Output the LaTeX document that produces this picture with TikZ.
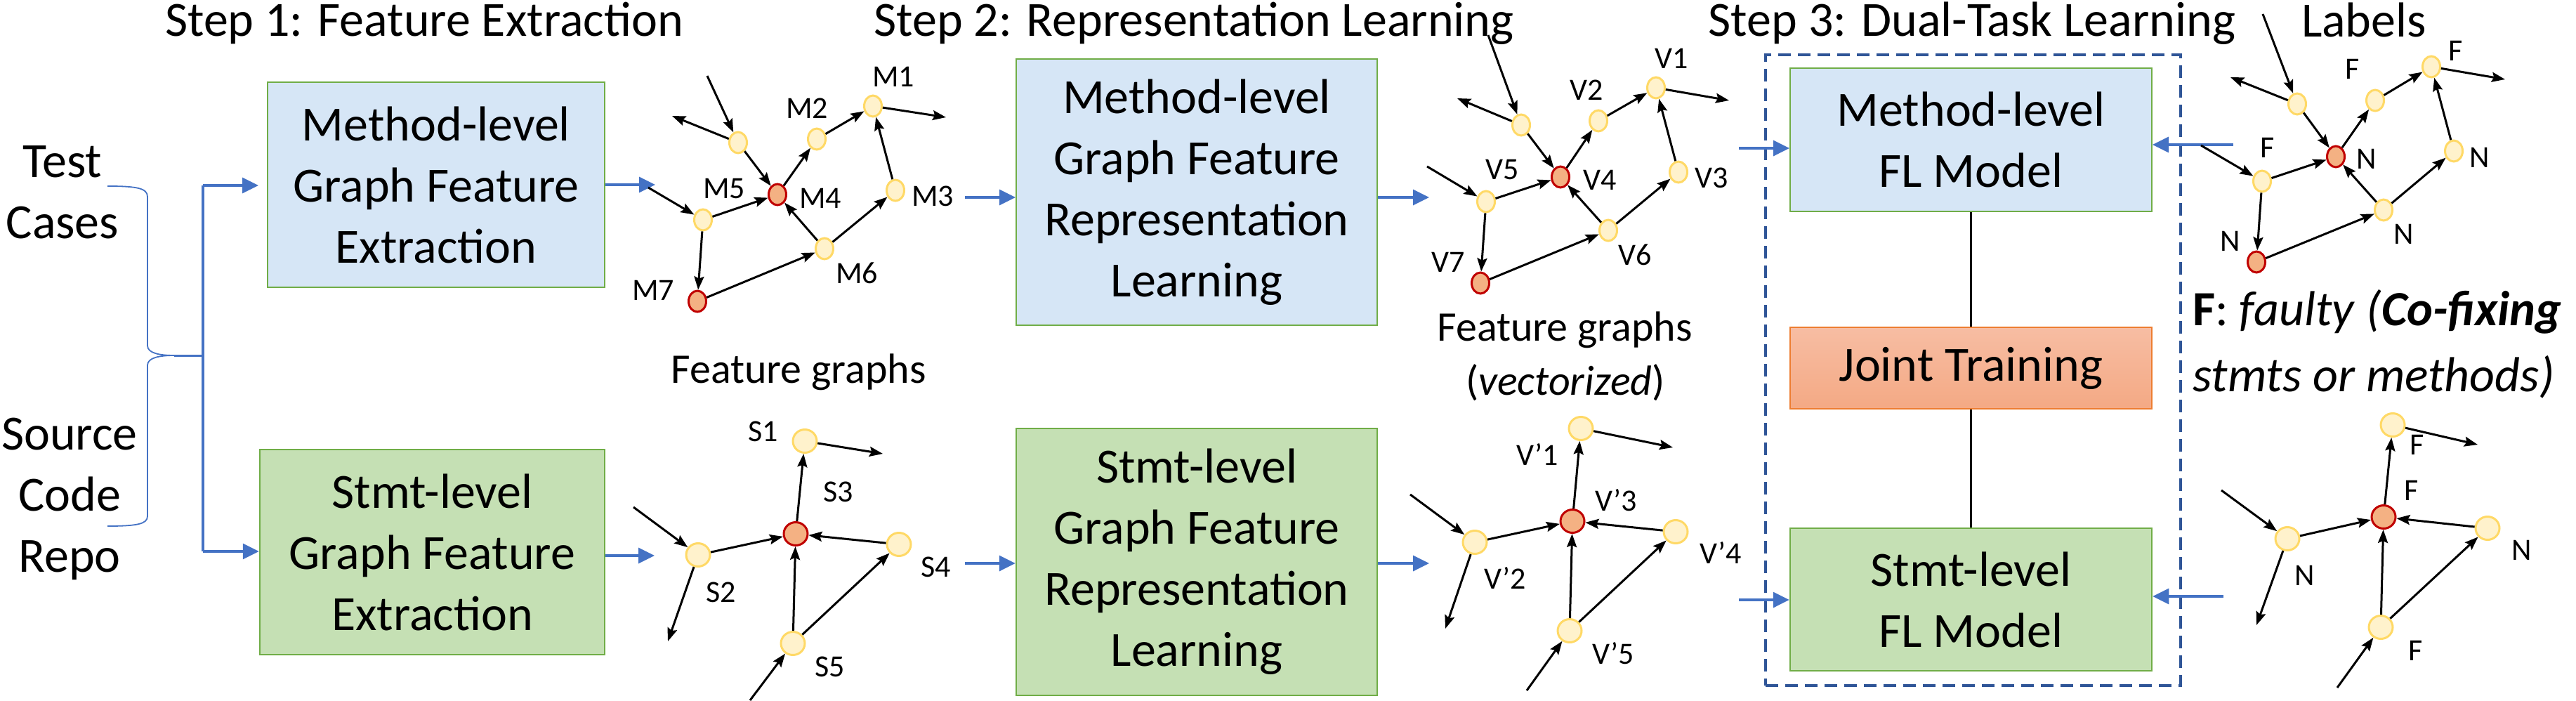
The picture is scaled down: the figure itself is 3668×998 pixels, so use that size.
\documentclass[tikz,border=0pt]{standalone}
\usepackage{fontspec}
\setmainfont{Carlito}
\usetikzlibrary{arrows.meta,shapes.geometric}
\definecolor{bblue}{HTML}{4472C4}
\definecolor{bgreen}{HTML}{70AD47}
\definecolor{bfill}{HTML}{D6E6F6}
\definecolor{gfill}{HTML}{C5E0B4}
\definecolor{jtb}{HTML}{ED7D31}
\definecolor{jtone}{HTML}{F7BDA3}
\definecolor{jttwo}{HTML}{F4A984}
\definecolor{dblue}{HTML}{2F5597}
\definecolor{ngold}{HTML}{FFD966}
\definecolor{nyel}{HTML}{FFF2CC}
\definecolor{nred}{HTML}{C00000}
\definecolor{nredf}{HTML}{F4B183}
\newcommand\methodedges[1]{\foreach \a/\b in {Ain/A,A/Aout,A/4,4/2,2/1,1/1out,3/1,6/3,6/4,7/6,5/7,5/4,5in/5} \draw[ed] (#1\a) -- (#1\b);}
\newcommand\stmtedges[1]{\foreach \a/\b in {2in/2,2/2out,2/3,3/1,1/1out,4/3,5/3,5/4,5in/5} \draw[ed] (#1\a) -- (#1\b);}
\tikzset{
 bigtxt/.style={font=\fontsize{70}{87}\selectfont, inner sep=0pt},
 midtxt/.style={font=\fontsize{60}{72}\selectfont, inner sep=0pt},
 lbl/.style={font=\fontsize{44}{50}\selectfont, inner sep=0pt, anchor=base},
 gn/.style={ellipse, draw=ngold, fill=nyel, line width=3pt, minimum width=25pt, minimum height=30pt, inner sep=0pt},
 gnr/.style={gn, draw=nred, fill=nredf},
 bn/.style={gn, minimum width=34pt, minimum height=33pt},
 bnr/.style={bn, draw=nred, fill=nredf},
 ed/.style={line width=3pt, -{Stealth[length=19pt,width=14pt,inset=3pt]}},
 bluearr/.style={draw=bblue, line width=3.5pt, -{Triangle[length=23pt,width=22pt]}},
 bluebox/.style={rectangle, draw=bgreen, line width=2pt, fill=bfill, align=center, bigtxt},
 greenbox/.style={rectangle, draw=bgreen, line width=2.5pt, fill=gfill, align=center, bigtxt},
}
\begin{document}
\begin{tikzpicture}[x=1pt,y=-1pt]
\useasboundingbox (0,0) rectangle (3668,998);

% ---------- titles ----------
\node[bigtxt, anchor=base] (t1) at (604,52) {Step 1: Feature Extraction};
\node[bigtxt, anchor=base] (t2) at (1700,52) {Step 2: Representation Learning};
\node[bigtxt, anchor=base] (t3) at (2808,52) {Step 3: Dual-Task Learning};
\node[bigtxt, anchor=base] (t4) at (3366,53) {Labels};

% ---------- inputs ----------
\node[bigtxt, align=center] (tc) at (89,273.5) {Test\\Cases};
\node[bigtxt, align=center] (sc) at (99,710.5) {Source\\Code\\Repo};
\draw[bblue, line width=1.8pt] (153,265) .. controls (195,265) and (210,268) .. (210,280) -- (210,492) .. controls (210,503) and (228,506) .. (248,506) .. controls (228,506) and (210,509) .. (210,520) -- (210,735) .. controls (210,746) and (195,749) .. (153,749);
\coordinate (bcusp) at (248,506);
\coordinate (bjoin) at (289,506);
\coordinate (jtop) at (289,264);
\coordinate (jbot) at (289,785);
\draw[bblue, line width=3pt] (bcusp) -- (bjoin);
\draw[bblue, line width=3.5pt] (jtop) -- (jbot);

% ---------- boxes ----------
\node[bluebox, minimum width=480pt, minimum height=292pt] (box1) at (621,263) {Method-level\\Graph Feature\\Extraction};
\node[greenbox, minimum width=491pt, minimum height=292pt] (box2) at (615.5,786) {Stmt-level\\Graph Feature\\Extraction};
\node[bluebox, minimum width=514pt, minimum height=379pt] (box3) at (1704,273.5) {Method-level\\Graph Feature\\Representation\\Learning};
\node[greenbox, minimum width=514pt, minimum height=380pt] (box4) at (1704,800) {Stmt-level\\Graph Feature\\Representation\\Learning};

\node[draw=dblue, line width=3.5pt, dash pattern=on 18pt off 10pt, minimum width=591pt, minimum height=898pt, inner sep=0pt] (frame) at (2809.5,527) {};
\node[bluebox, minimum width=515pt, minimum height=204pt] (box5) at (2806.5,199) {Method-level\\FL Model};
\node[rectangle, draw=jtb, line width=2.5pt, top color=jtone, bottom color=jttwo, minimum width=515pt, minimum height=116pt, bigtxt] (jt) at (2806.5,524) {Joint Training};
\node[greenbox, minimum width=515pt, minimum height=203pt] (box6) at (2806.5,853.5) {Stmt-level\\FL Model};
\draw[line width=2.5pt] (box5.south) -- (jt.north);
\draw[line width=2.5pt] (jt.south) -- (box6.north);

% ---------- blue arrows ----------
\draw[bluearr, shorten >=12pt] (jtop) -- (jtop -| box1.west);
\draw[bluearr] (jbot) -- (jbot -| box2.west);
\coordinate (g1) at (933,263);
\coordinate (g2) at (932,791);
\coordinate (g3) at (1374,281);
\coordinate (g4) at (2035,281);
\coordinate (g5) at (1374,802);
\coordinate (g6) at (2035,802);
\coordinate (g7) at (2476,211);
\coordinate (g8) at (2476,854);
\coordinate (g9) at (3180,206);
\coordinate (g10) at (3166,849);
\draw[bluearr] (box1.east |- g1) -- (g1);
\draw[bluearr] (box2.east |- g2) -- (g2);
\draw[bluearr] (g3) -- (g3 -| box3.west);
\draw[bluearr] (box3.east |- g4) -- (g4);
\draw[bluearr] (g5) -- (g5 -| box4.west);
\draw[bluearr] (box4.east |- g6) -- (g6);
\draw[bluearr] (g7) -- (g7 -| box5.west);
\draw[bluearr] (g8) -- (g8 -| box6.west);
\draw[bluearr] (g9) -- (g9 -| box5.east);
\draw[bluearr] (g10) -- (g10 -| box6.east);

% ---------- graph M ----------
\node[gn] (mA) at (1051,203) {};
\node[gn] (m2) at (1163,198) {};
\node[gn] (m1) at (1243,151) {};
\node[gnr] (m4) at (1107,277) {};
\node[gn] (m3) at (1275,271) {};
\node[gn] (m5) at (1001,313) {};
\node[gn] (m6) at (1174,354) {};
\node[gnr] (m7) at (993,429) {};
\coordinate (mAin) at (1007,108);
\coordinate (mAout) at (957,165);
\coordinate (m1out) at (1347,167);
\coordinate (m5in) at (923,267);
\methodedges{m}
\node[lbl] (lm1) at (1272,123) {M1};
\node[lbl] (lm2) at (1149,168) {M2};
\node[lbl] (lm3) at (1328,293) {M3};
\node[lbl] (lm4) at (1168,296) {M4};
\node[lbl] (lm5) at (1031,282) {M5};
\node[lbl] (lm6) at (1220,403) {M6};
\node[lbl] (lm7) at (930,427) {M7};
\node[midtxt, anchor=base] (fg1) at (1137,545) {Feature graphs};

% ---------- graph V ----------
\node[gn] (vA) at (2166,178) {};
\node[gn] (v2) at (2276,172) {};
\node[gn] (v1) at (2358,125) {};
\node[gnr] (v4) at (2222,252) {};
\node[gn] (v3) at (2390,245) {};
\node[gn] (v5) at (2116,287) {};
\node[gn] (v6) at (2290,328) {};
\node[gnr] (v7) at (2108,403) {};
\coordinate (vAin) at (2119,50);
\coordinate (vAout) at (2075,140);
\coordinate (v1out) at (2462,143);
\coordinate (v5in) at (2032,237);
\methodedges{v}
\node[lbl] (lv1) at (2380,97) {V1};
\node[lbl] (lv2) at (2259,142) {V2};
\node[lbl] (lv3) at (2437,267) {V3};
\node[lbl] (lv4) at (2278,270) {V4};
\node[lbl] (lv5) at (2139,255) {V5};
\node[lbl] (lv6) at (2328,377) {V6};
\node[lbl] (lv7) at (2062,387) {V7};
\node[midtxt, anchor=base] (fg2) at (2228,485) {Feature graphs};
\node[midtxt, anchor=base] (fg3) at (2229,562) {(\textit{vectorized})};

% ---------- graph labels (method) ----------
\node[gn] (lA) at (3271,148) {};
\node[gn] (l2) at (3382,143) {};
\node[gn] (l1) at (3462,95) {};
\node[gnr] (l4) at (3326,223) {};
\node[gn] (l3) at (3494,215) {};
\node[gn] (l5) at (3221,258) {};
\node[gn] (l6) at (3394,299) {};
\node[gnr] (l7) at (3213,373) {};
\coordinate (lAin) at (3222,20);
\coordinate (lAout) at (3176,110);
\coordinate (l1out) at (3567,113);
\coordinate (l5in) at (3134,207);
\methodedges{l}
\node[lbl] (ll1) at (3497,86) {F};
\node[lbl] (ll2) at (3350,112) {F};
\node[lbl] (ll3) at (3531,238) {N};
\node[lbl] (ll4) at (3370,240) {N};
\node[lbl] (ll5) at (3229,224) {F};
\node[lbl] (ll6) at (3423,347) {N};
\node[lbl] (ll7) at (3176,357) {N};

\node[bigtxt, anchor=base west] (leg1) at (3122,463) {\textbf{F}: \textit{faulty} \textit{(}\textbf{\textit{Co-fixing}}};
\node[bigtxt, anchor=base west] (leg2) at (3122,557) {\textit{stmts or methods)}};

% ---------- graph S ----------
\node[bn] (s2) at (994,790) {};
\node[bn] (s1) at (1146,628) {};
\node[bnr] (s3) at (1133,760) {};
\node[bn] (s4) at (1280,775) {};
\node[bn] (s5) at (1129,916) {};
\coordinate (s2in) at (902,722);
\coordinate (s2out) at (951,913);
\coordinate (s1out) at (1257,646);
\coordinate (s5in) at (1068,997);
\stmtedges{s}
\node[lbl] (ls1) at (1087,628) {S1};
\node[lbl] (ls2) at (1027,857) {S2};
\node[lbl] (ls3) at (1194,714) {S3};
\node[lbl] (ls4) at (1333,821) {S4};
\node[lbl] (ls5) at (1182,963) {S5};

% ---------- graph V' ----------
\node[bn] (w2) at (2100,772) {};
\node[bn] (w1) at (2251,610) {};
\node[bnr] (w3) at (2239,742) {};
\node[bn] (w4) at (2386,757) {};
\node[bn] (w5) at (2235,898) {};
\coordinate (w2in) at (2008,704);
\coordinate (w2out) at (2058,895);
\coordinate (w1out) at (2382,637);
\coordinate (w5in) at (2174,983);
\stmtedges{w}
\node[lbl] (lw1) at (2189,662) {V’1};
\node[lbl] (lw2) at (2143,838) {V’2};
\node[lbl] (lw3) at (2301,727) {V’3};
\node[lbl] (lw4) at (2450,802) {V’4};
\node[lbl] (lw5) at (2297,945) {V’5};

% ---------- graph labels (stmt) ----------
\node[bn] (b2) at (3257,767) {};
\node[bn] (b1) at (3407,605) {};
\node[bnr] (b3) at (3394,736) {};
\node[bn] (b4) at (3542,752) {};
\node[bn] (b5) at (3390,893) {};
\coordinate (b2in) at (3163,698);
\coordinate (b2out) at (3213,890);
\coordinate (b1out) at (3528,633);
\coordinate (b5in) at (3328,979);
\stmtedges{b}
\node[lbl] (lb1) at (3442,647) {F};
\node[lbl] (lb2) at (3282,833) {N};
\node[lbl] (lb3) at (3434,712) {F};
\node[lbl] (lb4) at (3591,797) {N};
\node[lbl] (lb5) at (3440,940) {F};
\end{tikzpicture}
\end{document}
